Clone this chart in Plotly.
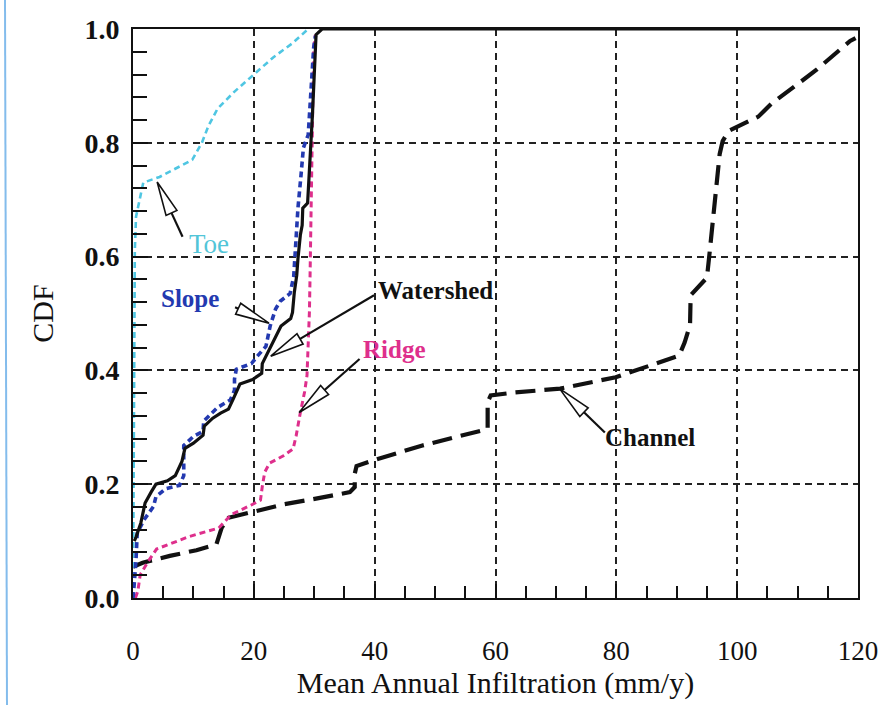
import plotly.graph_objects as go

# ---------------- data ----------------
toe_x = [0, 0.1, 0.3, 0.5, 1.7, 4.4, 9.8, 11.4, 12.5, 14.0, 16.8, 20.0, 23.2, 26.4, 29.0]
toe_y = [0, 0.30, 0.61, 0.67, 0.73, 0.74, 0.77, 0.80, 0.83, 0.86, 0.89, 0.92, 0.95, 0.975, 1.0]

slope_x = [0, 0.1, 0.5, 0.7, 1.8, 3.4, 3.8, 5.4, 7.7, 8.4, 8.4, 10.0, 11.6, 11.7, 14.0, 16.1, 16.8,
           16.8, 17.1, 19.6, 20.5, 22.0, 22.7, 23.6, 24.4, 26.0, 26.6, 26.8, 27.1, 27.3, 27.8, 28.2,
           29.0, 29.2, 29.6, 29.9, 30.2]
slope_y = [0, 0.010, 0.067, 0.114, 0.137, 0.161, 0.178, 0.192, 0.198, 0.215, 0.268, 0.284, 0.293,
           0.311, 0.335, 0.348, 0.365, 0.385, 0.402, 0.412, 0.424, 0.442, 0.478, 0.508, 0.522, 0.535,
           0.565, 0.608, 0.643, 0.685, 0.742, 0.791, 0.814, 0.848, 0.907, 0.967, 0.988]

watershed_x = [0.2, 0.5, 1.3, 2.0, 3.0, 3.8, 5.7, 7.0, 8.1, 8.6, 10.0, 11.6, 11.8, 13.2, 14.5, 15.8,
               16.6, 17.2, 17.7, 19.8, 21.3, 21.4, 22.8, 24.0, 24.5, 26.1, 26.4, 26.7, 27.1, 27.3,
               27.7, 28.0, 28.1, 28.9, 29.1, 29.4, 29.7, 29.9, 30.1, 30.3, 31.3, 120]
watershed_y = [0.10, 0.107, 0.132, 0.167, 0.186, 0.200, 0.206, 0.215, 0.240, 0.263, 0.272, 0.286,
               0.302, 0.316, 0.325, 0.332, 0.350, 0.366, 0.376, 0.384, 0.395, 0.412, 0.442, 0.466,
               0.478, 0.491, 0.502, 0.537, 0.567, 0.596, 0.638, 0.655, 0.685, 0.694, 0.743, 0.791,
               0.849, 0.907, 0.967, 0.990, 1.0, 1.0]

ridge_x = [0.4, 0.8, 1.2, 2.5, 3.9, 9.3, 14.2, 16.3, 19.5, 21.1, 21.4, 21.8, 22.6, 24.9, 26.5, 27.0,
           27.7, 28.4, 28.8, 29.0, 29.2, 29.3, 29.4, 29.5, 29.7, 29.9, 30.2]
ridge_y = [0, 0.012, 0.041, 0.064, 0.086, 0.108, 0.123, 0.147, 0.163, 0.172, 0.196, 0.221, 0.237,
           0.250, 0.262, 0.285, 0.326, 0.362, 0.391, 0.444, 0.503, 0.562, 0.621, 0.731, 0.849,
           0.967, 0.990]

channel_x = [0.0, 1.6, 6.1, 10.5, 13.8, 14.7, 15.8, 19.5, 25.1, 30.5, 35.9, 36.7, 36.7, 37.0, 39.8,
             47.9, 58.7, 58.7, 59.2, 63.0, 70.7, 79.9, 90.4, 91.3, 92.2, 92.3, 93.9, 95.0, 95.4,
             96.3, 97.1, 97.6, 98.6, 103.5, 105.8, 110.0, 113.2, 118.7, 119.6]
channel_y = [0.055, 0.062, 0.074, 0.084, 0.094, 0.124, 0.141, 0.151, 0.165, 0.175, 0.186, 0.195,
             0.218, 0.232, 0.242, 0.268, 0.297, 0.344, 0.356, 0.361, 0.368, 0.388, 0.426, 0.449,
             0.480, 0.532, 0.550, 0.563, 0.603, 0.691, 0.780, 0.803, 0.821, 0.846, 0.870, 0.903,
             0.929, 0.979, 0.984]

x_ticks = [0, 20, 40, 60, 80, 100, 120]
y_ticks = [0.0, 0.2, 0.4, 0.6, 0.8, 1.0]

# labels with arrows: text position, arrow tip, arrow tail (data units)
ann_text = ["Toe", "Slope", "Watershed", "Ridge", "Channel"]
ann_x = [12.6, 9.4, 50.0, 43.3, 85.5]
ann_y = [0.622, 0.527, 0.541, 0.436, 0.282]
ann_color = ["#52c5d8", "#2339b0", "#111111", "#de2f8c", "#111111"]
ann_bold = [False, True, True, True, True]
tip_x = [4.0, 22.5, 22.8, 27.5, 70.6]
tip_y = [0.731, 0.483, 0.425, 0.326, 0.368]
tail_x = [8.2, 16.9, 39.9, 37.5, 78.1]
tail_y = [0.635, 0.511, 0.532, 0.420, 0.291]

# ---------------- layout geometry ----------------
W, H = 880, 705
ML, MR, MT, MB = 133, 22, 29, 107
PW, PH = W - ML - MR, H - MT - MB
XR = [0, 120]
YR = [0, 1]

def d2p(x, y):
    return ((x - XR[0]) / (XR[1] - XR[0]) * PW, (y - YR[0]) / (YR[1] - YR[0]) * PH)

def p2d(px, py):
    return (XR[0] + px / PW * (XR[1] - XR[0]), YR[0] + py / PH * (YR[1] - YR[0]))

FONT = "Liberation Serif, Times New Roman, serif"

fig = go.Figure()

series = [
    (channel_x, channel_y, "Channel", "#111111", 4.2, "20px,9px"),
    (ridge_x, ridge_y, "Ridge", "#de2f8c", 3.0, "6px,4px"),
    (toe_x, toe_y, "Toe", "#4fc6e2", 2.6, "6px,4px"),
    (slope_x, slope_y, "Slope", "#2339b0", 3.6, "6px,4px"),
    (watershed_x, watershed_y, "Watershed", "#111111", 3.2, "solid"),
]
for xs, ys, name, col, w, dash in series:
    fig.add_trace(go.Scatter(x=xs, y=ys, mode="lines", name=name,
                             line=dict(color=col, width=w, dash=dash),
                             showlegend=False, hoverinfo="skip"))

shapes = []
HEAD_LEN, HEAD_HW = 34.0, 6.0
for i in range(len(ann_text)):
    tpx, tpy = d2p(tip_x[i], tip_y[i])
    tlx, tly = d2p(tail_x[i], tail_y[i])
    dx, dy = tlx - tpx, tly - tpy
    n = (dx * dx + dy * dy) ** 0.5
    ux, uy = dx / n, dy / n
    bx, by = tpx + ux * HEAD_LEN, tpy + uy * HEAD_LEN
    px_, py_ = -uy, ux
    p1 = p2d(bx + px_ * HEAD_HW, by + py_ * HEAD_HW)
    p2 = p2d(bx - px_ * HEAD_HW, by - py_ * HEAD_HW)
    b = p2d(bx, by)
    if n > HEAD_LEN + 2:
        shapes.append(dict(type="line", xref="x", yref="y", x0=b[0], y0=b[1],
                           x1=tail_x[i], y1=tail_y[i], line=dict(color="#111111", width=2.2)))
    path = "M {:.4f},{:.5f} L {:.4f},{:.5f} L {:.4f},{:.5f} Z".format(
        tip_x[i], tip_y[i], p1[0], p1[1], p2[0], p2[1])
    shapes.append(dict(type="path", xref="x", yref="y", path=path,
                       fillcolor="white", line=dict(color="#111111", width=1.6)))
    fig.add_annotation(x=ann_x[i], y=ann_y[i], xref="x", yref="y", showarrow=False,
                       text=("<b>%s</b>" % ann_text[i]) if ann_bold[i] else ann_text[i],
                       font=dict(family=FONT, size=25 if ann_bold[i] else 27, color=ann_color[i]),
                       xanchor="center", yanchor="middle")

# scanned notebook margin line at the far left
shapes.append(dict(type="line", xref="paper", yref="paper", x0=(7 - ML) / PW, x1=(5 - ML) / PW,
                   y0=-MB / PH, y1=(PH + MT) / PH,
                   line=dict(color="rgba(90,165,230,0.75)", width=2)))

fig.update_layout(
    width=W, height=H,
    margin=dict(l=ML, r=MR, t=MT, b=MB, pad=0, autoexpand=False),
    paper_bgcolor="white", plot_bgcolor="white",
    shapes=shapes,
    font=dict(family=FONT, color="#111111"),
)

fig.update_xaxes(
    range=XR, tickmode="array", tickvals=x_ticks, ticktext=[str(v) for v in x_ticks],
    ticks="inside", ticklen=14, tickwidth=1.8, tickcolor="#111111",
    minor=dict(dtick=5, ticks="inside", ticklen=12, tickwidth=1.6, tickcolor="#111111", showgrid=False),
    showgrid=True, gridcolor="#222222", gridwidth=1.5, griddash="7px,5px",
    showline=True, linecolor="#111111", linewidth=2, mirror=True,
    zeroline=False, automargin=False,
    tickfont=dict(family=FONT, size=27, color="#111111"),
    ticklabelstandoff=28, ticklabeloverflow="allow",
    title=dict(text="Mean Annual Infiltration (mm/y)", font=dict(family=FONT, size=30, color="#111111"),
               standoff=0),
)
fig.update_yaxes(
    range=YR, tickmode="array", tickvals=y_ticks, ticktext=["<b>%.1f</b>" % v for v in y_ticks],
    ticks="inside", ticklen=15, tickwidth=1.8, tickcolor="#111111",
    minor=dict(dtick=0.04, ticks="inside", ticklen=14, tickwidth=1.6, tickcolor="#111111", showgrid=False),
    showgrid=True, gridcolor="#222222", gridwidth=1.5, griddash="7px,5px",
    showline=True, linecolor="#111111", linewidth=2, mirror=True,
    zeroline=False, automargin=False,
    tickfont=dict(family=FONT, size=28, color="#111111"),
    ticklabelstandoff=6, ticklabeloverflow="allow",
    title=dict(text="CDF", font=dict(family=FONT, size=30, color="#111111"), standoff=22),
)

fig.write_html("out.html")
